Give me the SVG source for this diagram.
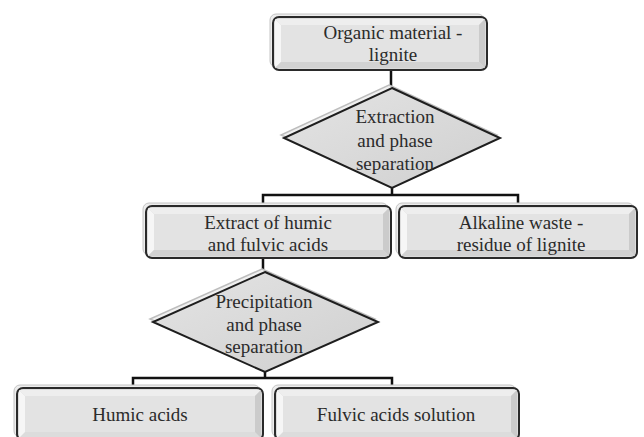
<svg xmlns="http://www.w3.org/2000/svg" width="644" height="437" viewBox="0 0 644 437">
<defs>
<linearGradient id="dg" x1="0" y1="0" x2="1" y2="1">
<stop offset="0" stop-color="#e4e4e4"/>
<stop offset="1" stop-color="#cfcfcf"/>
</linearGradient>
</defs>
<style>
.back{fill:#ededed;stroke:#c4c4c4;stroke-width:1}
.main{fill:#dcdcdc;stroke:#2a2a2a;stroke-width:2}
.inner{fill:#e3e3e3}
.hl{fill:#f6f6f6}
.hl2{fill:#eeeeee}
.sh{fill:#cbcbcb}
.sh2{fill:#d2d2d2}
.dback{fill:#f0f0f0;stroke:#bdbdbd;stroke-width:1.5}
.dmain{fill:url(#dg);stroke:#1e1e1e;stroke-width:2}
.t{font-family:"Liberation Serif","Times New Roman",serif;font-size:19px;fill:#2b2b2b;text-anchor:middle}
.c{fill:none;stroke:#111;stroke-width:2.5}
</style>
<rect width="644" height="437" fill="#fff"/>

<g id="connectors">
<path class="c" d="M391 70 V89"/>
<path class="c" d="M392 187 V195 M263 206 V195 H518 V206"/>
<path class="c" d="M263 258 V272"/>
<path class="c" d="M265 371 V378 M133 388 V378 H392 V388"/>
</g>

<g id="organic">
<rect class="back" x="270" y="14" width="214" height="53" rx="6"/>
<rect class="main" x="273" y="17" width="214" height="53" rx="6"/>
<polygon class="hl" points="275,19 281,25 281,62 275,68"/>
<polygon class="hl2" points="275,19 485,19 479,25 281,25"/>
<polygon class="sh" points="485,19 485,68 479,62 479,25"/>
<polygon class="sh2" points="275,68 281,62 479,62 485,68"/>
<rect class="inner" x="281" y="25" width="198" height="37"/>
<text class="t" x="393" y="39">Organic material -</text>
<text class="t" x="393" y="61">lignite</text>
</g>

<g id="extraction">
<polygon class="dback" points="389,85 497,135 389,185 281,135"/>
<polygon class="dmain" points="392,88 500,138 392,188 284,138"/>
<text class="t" x="395" y="123">Extraction</text>
<text class="t" x="395" y="147">and phase</text>
<text class="t" x="395" y="170">separation</text>
</g>

<g id="extract">
<rect class="back" x="143" y="203" width="245" height="52" rx="6"/>
<rect class="main" x="146" y="206" width="245" height="52" rx="6"/>
<polygon class="hl" points="148,208 154,214 154,250 148,256"/>
<polygon class="hl2" points="148,208 389,208 383,214 154,214"/>
<polygon class="sh" points="389,208 389,256 383,250 383,214"/>
<polygon class="sh2" points="148,256 154,250 383,250 389,256"/>
<rect class="inner" x="154" y="214" width="229" height="36"/>
<text class="t" x="268" y="229">Extract of humic</text>
<text class="t" x="268" y="251">and fulvic acids</text>
</g>

<g id="alkaline">
<rect class="back" x="396" y="203" width="238" height="52" rx="6"/>
<rect class="main" x="399" y="206" width="238" height="52" rx="6"/>
<polygon class="hl" points="401,208 407,214 407,250 401,256"/>
<polygon class="hl2" points="401,208 635,208 629,214 407,214"/>
<polygon class="sh" points="635,208 635,256 629,250 629,214"/>
<polygon class="sh2" points="401,256 407,250 629,250 635,256"/>
<rect class="inner" x="407" y="214" width="222" height="36"/>
<text class="t" x="521" y="229">Alkaline waste -</text>
<text class="t" x="521" y="251">residue of lignite</text>
</g>

<g id="precipitation">
<polygon class="dback" points="262,269 375,319 262,369 150,319"/>
<polygon class="dmain" points="265,272 378,322 265,372 153,322"/>
<text class="t" x="264" y="308">Precipitation</text>
<text class="t" x="264" y="331">and phase</text>
<text class="t" x="264" y="353">separation</text>
</g>

<g id="humic">
<rect class="back" x="14" y="385" width="246" height="52" rx="6"/>
<rect class="main" x="17" y="388" width="246" height="52" rx="6"/>
<polygon class="hl" points="19,390 25,396 25,432 19,438"/>
<polygon class="hl2" points="19,390 261,390 255,396 25,396"/>
<polygon class="sh" points="261,390 261,438 255,432 255,396"/>
<rect class="inner" x="25" y="396" width="230" height="36"/>
<text class="t" x="140" y="421">Humic acids</text>
</g>

<g id="fulvic">
<rect class="back" x="272" y="385" width="244" height="52" rx="6"/>
<rect class="main" x="275" y="388" width="244" height="52" rx="6"/>
<polygon class="hl" points="277,390 283,396 283,432 277,438"/>
<polygon class="hl2" points="277,390 517,390 511,396 283,396"/>
<polygon class="sh" points="517,390 517,438 511,432 511,396"/>
<rect class="inner" x="283" y="396" width="228" height="36"/>
<text class="t" x="396" y="421">Fulvic acids solution</text>
</g>
</svg>
